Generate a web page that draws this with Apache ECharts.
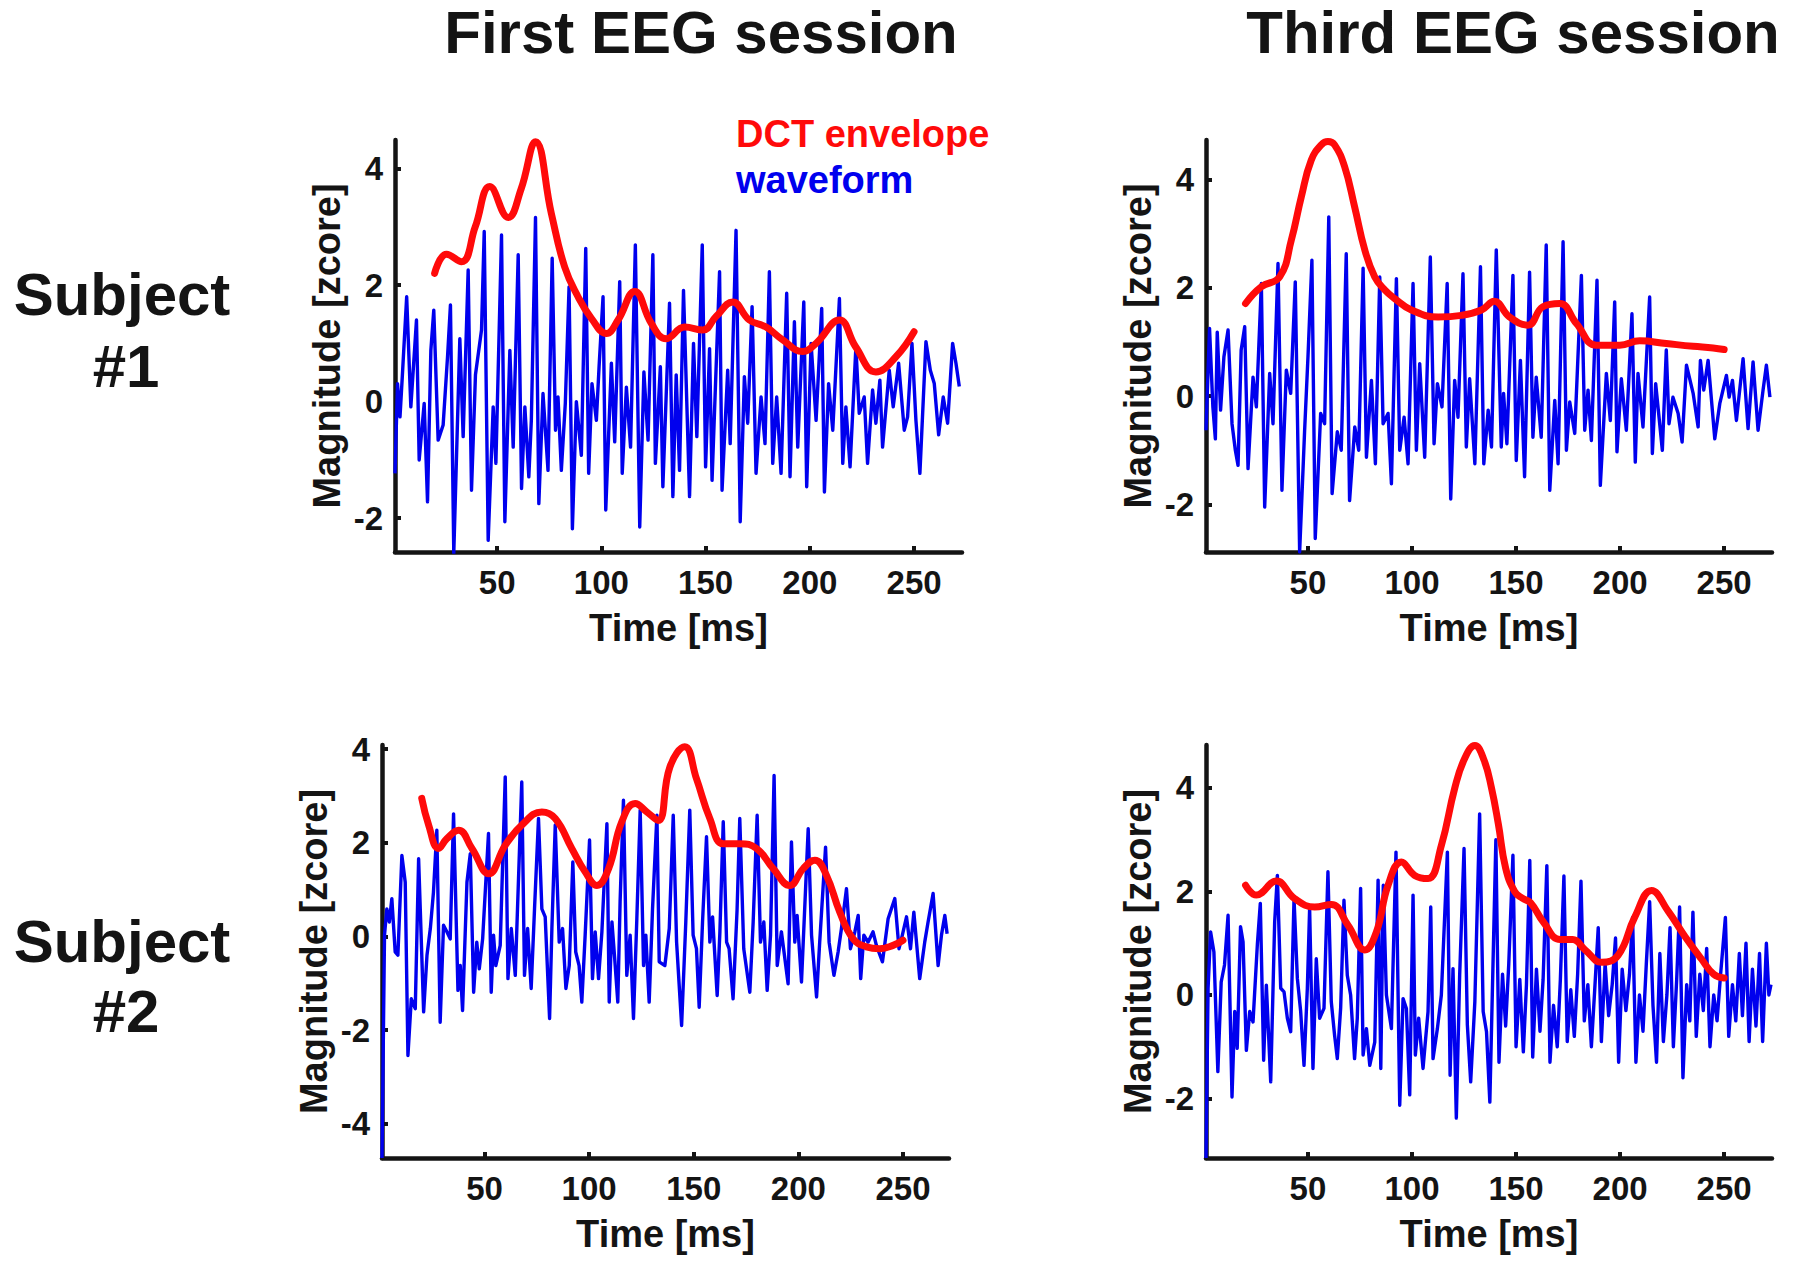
<!DOCTYPE html>
<html><head><meta charset="utf-8">
<script src="https://cdn.jsdelivr.net/npm/echarts@6/dist/echarts.min.js"></script>
<style>html,body{margin:0;padding:0;background:#fff}#c{width:1800px;height:1271px}</style>
</head><body><div id="c"></div>
<script>
// ---------- data ----------
const xTicks = [50, 100, 150, 200, 250];
const yTicksA = [-2, 0, 2, 4];
const yTicksC = [-4, -2, 0, 2, 4];

// Panel 1: Subject #1, first session
const p1WaveT = [1,2.2,3.4,4.5,6.6,8.6,11.3,12.6,15,16.6,18.2,19.6,21.7,24.1,26.2,27.6,29.2,32.1,33.7,36.1,37.7,39.6,42.5,43.8,45.7,48.1,49.4,52.1,53.7,56.1,57.7,60.1,61.7,63.3,65.2,66.4,68.4,70,72,74.4,76.4,78,79.2,80.8,82.7,84.5,86.1,88,90.4,92.5,93.9,95.5,97.6,98.9,100.8,102.1,104.8,106.4,108.8,110,112,114,116.3,118.4,120.4,122.4,124.7,125.9,128.3,129.5,132.7,134.3,135.9,137.5,139.4,142.3,144.2,145.8,148.4,150,151.9,153.1,156.7,157.9,160.6,161.8,164.6,166.6,168.6,170.2,172.3,174.2,176.6,178.5,180.6,182.2,184.1,186.2,188.9,190.5,192.6,194.2,197.1,198.5,200.6,203,205.7,207,209,211,214.2,215.8,217.3,219.3,222.1,223.7,226.1,227.7,230.1,231.7,233.6,234.9,238.1,240,242.6,245.3,246.9,249,250.9,252.8,255.7,257.8,259.7,261.8,264,266.1,268.5,270.1,271.7];
const p1WaveV = [-1.23,0.31,-0.26,0.43,1.8,-0.09,1.4,-1,-0.03,-1.72,0.88,1.57,-0.66,-0.4,0.77,1.66,-2.6,1.08,-0.6,2.26,-1.52,0.46,1.23,2.92,-2.38,-0.09,-1.06,2.86,-2.06,0.88,-0.78,2.52,-1.49,-0.09,-1.29,-0.32,3.16,-1.75,0.14,-1.18,2.46,-0.49,0.08,-1.18,-0.03,1.97,-2.18,0,-0.92,2.63,-1.23,0.31,-0.32,0.6,1.8,-1.86,0.66,-0.69,2.06,-1.23,0.25,-0.78,2.69,-2.15,0.51,-0.66,2.52,-1.06,0.6,-1.46,1.69,-1.63,0.46,-1.18,1.91,-1.63,1,-0.6,2.69,-1.12,0.91,-1.35,2.23,-1.52,0.54,-0.72,2.94,-2.06,0.43,-0.37,1.63,-1.23,0.08,-0.72,2.23,-1.06,0.08,-1.23,1.86,-1.29,1.37,-0.78,1.71,-1.46,1,-0.32,1.6,-1.55,0.31,-0.49,1.77,-1.06,-0.09,-1.12,0.94,-0.2,0.08,-1.06,0.2,-0.37,0.37,-0.78,0.54,-0.09,0.66,-0.49,-0.26,1,-0.32,-1.23,1.03,0.54,0.31,-0.57,0.08,-0.37,1,0.66,0.26];
const p1EnvT = [20,25.7,32.9,39.5,46.5,55.3,61.5,68.4,76,82.4,88.8,95.2,102.4,108,116,124,131.1,140,148.7,155,163,171,179,187,196.6,203,214.2,222,231.7,241.3,250];
const p1EnvV = [2.2,2.53,2.4,3.0,3.69,3.16,3.65,4.46,3.23,2.31,1.8,1.43,1.17,1.4,1.89,1.34,1.08,1.28,1.23,1.46,1.71,1.4,1.28,1.06,0.86,1.0,1.4,0.94,0.51,0.77,1.2];

// Panel 2: Subject #1, third session
const p2WaveT = [1,2.7,4.3,5.5,6.4,8,9.6,11.6,13.5,15.1,16.4,17.9,19.6,21.2,23.6,25.2,27.6,29.2,31.6,33.2,35.6,37.5,39.6,41.7,43.9,46,48.4,50,51.9,53.5,56.1,58,60,61.6,64.1,66,68.4,70,72.5,74.4,76.5,78.1,80.5,82.4,84.5,86.1,88.5,90.1,92.5,94.1,96.2,98.1,100.5,102.1,103.7,106.1,108.8,110.6,112.2,114.4,116.9,118.6,120.5,122.1,124.5,126.1,127.7,130.2,132.9,134.5,136.6,138.2,140.5,142.9,144,145.6,148.5,150.1,152.1,154.1,156.5,158.1,159.7,162.1,164.5,166.2,168.6,170.2,172.6,174.2,175.8,178.2,181.4,183,184.6,186.2,188.9,190.5,193.4,195.3,197.4,198.5,200.6,203,205.7,207.3,208.6,211,214.2,215.5,217.1,220.3,222.2,223.5,225.4,227.9,229.8,231.9,235.1,237.5,238.6,240.2,242.3,245.5,247.9,251.1,252.4,254,255.9,259.1,261.5,263.9,266.3,268.7,270.3,272];
const p2WaveV = [-0.63,1.25,-0.2,-0.79,1.18,-0.26,0.72,1.22,-0.51,-1,-1.28,0.85,1.28,-1.34,0.35,-0.2,2.08,-2.05,0.42,-0.51,2.45,-1.74,0.48,0.05,2.11,-2.88,-0.63,0.72,2.51,-2.63,-0.32,-0.51,3.31,-1.8,-0.66,-1,2.63,-1.93,-0.57,-1,2.36,-1.13,0.29,-1.25,2.2,-0.51,-0.32,-1.62,2.17,-1,-0.39,-1.25,2.08,-1,0.6,-1.13,2.57,-0.88,0.23,-0.2,2.08,-1.9,0.29,-0.39,2.26,-0.94,0.32,-1.25,2.39,-1.25,-0.26,-0.94,2.7,-0.94,0.05,-0.88,2.23,-1.19,0.66,-1.49,2.29,-0.76,0.35,-0.76,2.79,-1.74,-0.08,-1.25,2.85,-1,-0.11,-0.69,2.23,-0.63,0.11,-0.82,2.14,-1.65,0.42,-0.45,1.74,-1.03,0.32,-0.63,1.52,-1.22,0.42,-0.57,1.83,-1.06,0.23,-1,0.85,-0.51,-0.02,-0.32,-0.85,0.57,0.05,-0.57,0.66,0.11,0.66,-0.79,-0.14,0.38,-0.02,0.29,-0.45,0.69,-0.6,0.63,-0.63,0.11,0.57,-0.02];
const p2EnvT = [20,27.6,36.4,42,46.8,51.6,56.4,59.6,62.8,67.6,72.4,77.3,82.1,86.9,91.7,99.7,112.5,123.7,133.4,139.5,146.9,155.7,162.9,171,179,188.6,199.8,209.4,222.2,235.1,244.7,250];
const p2EnvV = [1.71,2.02,2.2,2.88,3.68,4.36,4.64,4.7,4.64,4.24,3.5,2.7,2.2,1.96,1.8,1.59,1.46,1.49,1.59,1.75,1.46,1.31,1.65,1.71,1.34,0.94,0.94,1.02,0.97,0.92,0.89,0.86];

// Panel 3: Subject #2, first session
const p3WaveT = [1,2.2,3.3,4.5,5.7,7.3,8.6,10.5,12.1,13.4,15,16.9,18.5,20.9,22.5,24.1,25.6,27.2,28.8,30.4,32,33.6,35.2,37.3,38.4,39.5,41.6,43.2,44.8,46.3,47.5,49.1,51.9,53.2,54.3,55.4,57.5,59.9,61.2,62.8,64.7,67.8,69.1,70.6,72.3,73.9,75.8,77.4,79,81.1,82.2,83.8,85.7,87.3,88.9,90.5,92.2,93.6,95.2,96.5,98.1,100.2,101.6,102.9,104.5,106.1,108.5,109.6,110.9,112.1,113.7,114.8,116.4,118,119.6,121.2,122.8,124.4,126,127.1,128.7,130.3,132.4,133.5,136.2,138.3,140.2,141.8,144.2,146.2,148.1,149.7,151.3,152.6,154.2,156.1,157.7,159,161.2,162.5,164.1,165.7,166.9,168.8,170.7,172,173.9,176.8,178.4,180.3,181.9,183.5,185.1,186.7,188.4,189.9,191.9,195.1,196.7,198.3,199.4,201.5,204.7,206.3,208.7,210.2,213,214.7,217,219,220.6,223,224.9,227,228.6,229.8,231.3,233.3,235.7,237.3,240.2,242.9,246.1,248.1,249.7,251.7,253.6,255.2,258,260.4,262,264.4,266.8,268.4,270,271.1];
const p3WaveV = [-4.73,0.03,0.59,0.31,0.81,-0.33,-0.4,1.73,1.16,-2.54,-1.33,-1.54,1.66,-1.61,-0.4,0.17,0.95,2.27,-1.83,0.24,0.1,-0.05,2.62,-1.15,-0.62,-1.58,1.16,1.77,-1.19,-0.12,-0.69,-0.05,2.2,-1.19,0.03,-0.62,-0.19,3.41,-0.9,0.17,-0.83,3.3,-0.83,0.17,-1.11,0.59,2.52,0.59,0.42,-1.75,0.17,2.38,-0.12,0.17,-1.11,-0.62,1.59,-0.33,-0.62,-1.4,0.03,2.06,-0.9,0.1,-0.9,0.1,2.41,-1.4,0.31,-0.4,-1.4,0.74,2.91,-0.83,0.03,-1.75,0.38,2.7,-0.62,0.03,-1.4,0.59,2.59,-0.54,-0.62,0.17,2.59,-0.12,-1.9,0.31,2.7,0.03,-0.26,-1.51,0.31,2.13,-0.12,0.42,-1.26,0.1,2.45,-0.12,-0.26,-1.33,0.56,2.52,-0.26,-1.19,0.31,2.59,-0.12,0.31,-1.15,0.03,3.44,-0.62,0.1,-1.01,2.02,-0.12,0.45,-0.97,2.3,0.03,-1.29,-0.12,1.91,-0.12,-0.83,-0.33,0.17,1.02,-0.26,0.1,0.45,-0.9,0.03,-0.12,0.1,-0.19,-0.54,0.38,0.81,-0.26,0.03,0.42,-0.26,0.52,-0.9,-0.12,0.31,0.92,-0.62,0.03,0.45,0.06];
const p3EnvT = [20,23.3,28,32,37.6,44,52,59.9,67.8,77.4,83.8,91.7,98.1,103.7,109.3,115.6,122,127.6,133,138.6,145.7,151.3,157.7,164.1,172,180,188,195.9,202.3,207.9,213.4,219.8,226.2,232.5,238.9,245.3,250];
const p3EnvV = [2.95,2.38,1.88,2.09,2.27,1.88,1.34,1.95,2.38,2.66,2.52,1.88,1.38,1.09,1.45,2.45,2.84,2.66,2.48,3.62,4.05,3.37,2.52,1.98,1.98,1.88,1.45,1.09,1.45,1.63,1.31,0.52,-0.05,-0.22,-0.26,-0.19,-0.08];

// Panel 4: Subject #2, third session
const p4WaveT = [1,2,3.2,4.8,6.7,8.3,9.9,11.6,13.5,14.8,16,17.6,18.8,20.4,22,23.6,25.7,27.1,28.7,30,32.1,34,35.3,36.9,38.5,40.1,41.7,43.3,44.9,46.5,48.1,49.7,50.8,52.4,54,55.6,57.7,59.6,61.2,62.8,64.1,65.7,67.3,68.9,70.5,72.4,73.7,75.3,76.5,78.1,79.7,82.1,83.7,85,86.2,87.7,90.1,92.3,94.1,95.7,97.3,98.9,100.5,101.6,103.2,105.3,107.7,109,110.1,112.2,114.1,117,118.3,119.7,121.3,122.9,125,126.6,128.2,130.2,132.5,134.2,135.8,137.4,140.3,141.8,143.5,145,146.5,148.5,150,151.8,153.5,155,156.6,158,159.8,161.5,163,164.8,166.3,168,169.8,171.3,173,174.6,176.3,178,179.6,181.2,182.8,184.5,186.2,187.8,189.5,191,192.8,194.5,196.2,197.8,199.3,201,202.8,204.5,206,207.6,209.3,211,212.6,214.2,215.8,217.5,219.1,220.8,222.5,224,225.6,227.2,228.6,230.2,232,233.5,235,236.6,238.3,240,241.6,243.2,245,246.6,248.3,250.6,252.2,254,255.6,257.3,258.8,260.5,262,263.6,265.3,267,268.5,270.3,271.5,272.5];
const p4WaveV = [-3.15,0.13,1.22,0.83,-1.48,0.25,0.58,1.54,-1.97,-0.32,-1.03,1.32,1.03,-1.07,-0.32,-0.52,0.99,1.77,-1.26,0.19,-1.68,1.41,2.31,0.13,0.06,-0.45,-0.71,1.86,0.32,-0.32,-1.36,0.13,1.67,-1.42,0.7,-0.45,-0.26,2.38,-0.13,-0.78,-1.23,-0.26,1.83,0.38,0,-1.23,-0.45,2.06,-1.16,-0.65,-1.36,-0.91,2.22,-1.42,2.12,0,-0.65,2.76,-2.13,-0.07,-0.26,-1.93,1.93,-1.16,-0.45,-1.42,-0.32,1.7,-1.23,-0.65,0,2.76,-1.55,0.51,-2.38,0.38,2.83,-0.58,-1.68,-0.13,3.5,-0.32,-0.71,-2.07,3.0,-1.3,0.4,-0.6,0.6,2.7,-1.0,0.3,-1.1,0.2,2.6,-1.2,0.5,-0.7,0.3,2.5,-1.3,-0.2,-1.0,0.3,2.3,-0.9,0.1,-0.8,0.4,2.2,-0.5,0.2,-1.0,0.1,1.3,-0.9,0.6,-0.4,0.2,1.1,-1.3,0.5,-0.3,0.4,1.5,-1.3,0,-0.7,0.6,1.8,-0.2,-1.3,0.8,-0.9,0,1.3,-1.0,0.3,1.7,-1.6,0.2,-0.5,1.6,-0.8,0.4,-0.3,0.9,-1.0,0,-0.5,0.4,1.5,-0.8,0.2,-0.5,0.8,-0.4,1.0,-0.9,0.5,-0.6,0.8,-0.9,1.0,0,0.2];
const p4EnvT = [20,25.2,34.8,43.6,53.2,61.2,69.2,77.3,82.9,88.5,94.9,101.3,107.7,114.1,120.5,125.3,130.2,134.5,138.2,141.5,145,149.3,153,157,163.3,171.2,177.2,183.2,191.2,199.1,207.1,215.1,223.1,231,239,245,250];
const p4EnvV = [2.12,1.93,2.2,1.86,1.7,1.75,1.35,0.87,1.22,2.12,2.57,2.31,2.25,2.89,3.99,4.57,4.82,4.55,4.0,3.3,2.45,2.0,1.87,1.78,1.4,1.07,1.07,0.87,0.63,0.77,1.51,2.02,1.62,1.14,0.7,0.4,0.33];

// ---------- chart ----------
const FONT = '"Liberation Sans", Arial, sans-serif';
const INK = '#141414';
const BLUE = '#0000ee';
const RED = '#ff0a0a';
const zip = (t, v) => t.map((x, i) => [x, v[i]]);

const grids = [
  {left: 395, top: 140, width: 567, height: 412},
  {left: 1206, top: 140, width: 566, height: 412},
  {left: 382, top: 745, width: 567, height: 413},
  {left: 1206, top: 745, width: 566, height: 413}
];
const xMax = [273, 273, 272, 273];
const yMin = [-2.58, -2.88, -4.73, -3.15];
const yMax = [4.49, 4.73, 4.09, 4.83];
const yTicks = [yTicksA, yTicksA, yTicksC, yTicksA];
const waves = [zip(p1WaveT, p1WaveV), zip(p2WaveT, p2WaveV), zip(p3WaveT, p3WaveV), zip(p4WaveT, p4WaveV)];
const envs = [zip(p1EnvT, p1EnvV), zip(p2EnvT, p2EnvV), zip(p3EnvT, p3EnvV), zip(p4EnvT, p4EnvV)];

const tickStyle = {color: INK, width: 4};
const labelBase = {fontSize: 33, fontWeight: 'bold', color: INK, fontFamily: FONT};
const nameBase = {fontSize: 38, fontWeight: 'bold', color: INK, fontFamily: FONT};

const xAxis = grids.map((g, i) => ({
  type: 'value', gridIndex: i, min: 1, max: xMax[i],
  name: 'Time [ms]', nameLocation: 'middle', nameGap: 57, nameTextStyle: nameBase,
  axisLine: {onZero: false, lineStyle: {color: INK, width: 4.5}},
  axisTick: {inside: true, length: 6, customValues: xTicks, lineStyle: tickStyle},
  axisLabel: Object.assign({customValues: xTicks, margin: 14}, labelBase),
  splitLine: {show: false}
}));
const yAxis = grids.map((g, i) => ({
  type: 'value', gridIndex: i, min: yMin[i], max: yMax[i],
  name: 'Magnitude [zcore]', nameLocation: 'middle', nameGap: 49, nameTextStyle: nameBase,
  axisLine: {show: true, onZero: false, lineStyle: {color: INK, width: 4.5}},
  axisTick: {show: true, inside: true, length: 6, customValues: yTicks[i], lineStyle: tickStyle},
  axisLabel: Object.assign({customValues: yTicks[i], margin: 12}, labelBase),
  splitLine: {show: false}
}));

const series = [];
for (let i = 0; i < 4; i++) {
  series.push({type: 'line', xAxisIndex: i, yAxisIndex: i, data: waves[i], symbol: 'none',
    lineStyle: {color: BLUE, width: 3.4, join: 'round'}, z: 3, clip: true});
}
for (let i = 0; i < 4; i++) {
  series.push({type: 'line', xAxisIndex: i, yAxisIndex: i, data: envs[i], symbol: 'none',
    smooth: 0.45, lineStyle: {color: RED, width: 7, cap: 'round', join: 'round'}, z: 4, clip: true});
}

const bigFont = 'bold 60px ' + FONT;
const txt = (x, y, text, font, fill, align) => ({type: 'text', x: x, y: y, z: 10,
  style: {text: text, font: font, fill: fill, align: align || 'center', verticalAlign: 'middle',
          textAlign: align || 'center', textVerticalAlign: 'middle'}});

const chart = echarts.init(document.getElementById('c'), null, {renderer: 'svg', width: 1800, height: 1271});
chart.setOption({
  backgroundColor: '#ffffff',
  animation: false,
  grid: grids,
  xAxis: xAxis,
  yAxis: yAxis,
  series: series,
  graphic: [
    txt(701, 32, 'First EEG session', bigFont, INK),
    txt(1513, 32, 'Third EEG session', bigFont, INK),
    txt(122, 294, 'Subject', bigFont, INK),
    txt(126, 366, '#1', bigFont, INK),
    txt(122, 941, 'Subject', bigFont, INK),
    txt(126, 1011, '#2', bigFont, INK),
    txt(736, 134, 'DCT envelope', 'bold 38px ' + FONT, RED, 'left'),
    txt(736, 180, 'waveform', 'bold 38px ' + FONT, BLUE, 'left')
  ]
});
</script>
</body></html>
